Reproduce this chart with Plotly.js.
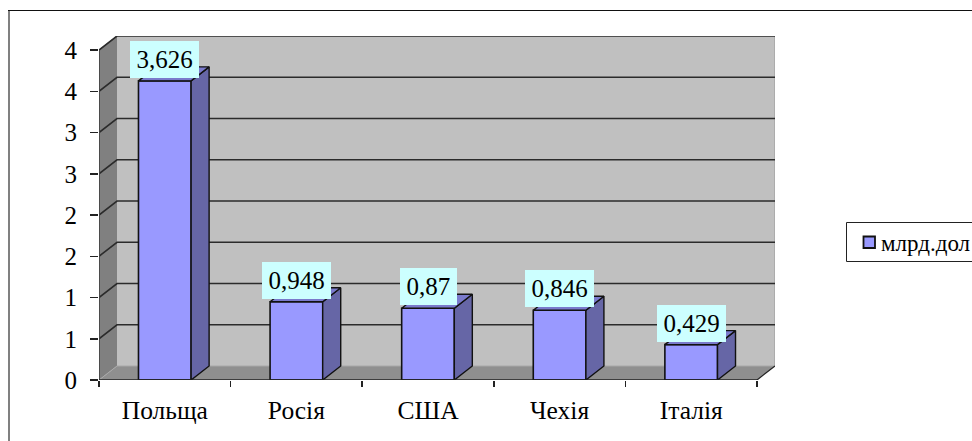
<!DOCTYPE html>
<html><head><meta charset="utf-8">
<script src="https://cdn.plot.ly/plotly-3.0.1.min.js"></script>
<style>html,body{margin:0;padding:0;background:#fff;overflow:hidden}</style>
</head><body><div id="chart" style="width:972px;height:441px"></div>
<script>
const categories = ["Польща","Росія","США","Чехія","Італія"];
const values = [3.626,0.948,0.87,0.846,0.429];
const valueLabels = ["3,626","0,948","0,87","0,846","0,429"];
const yTickVals = [0,0.5,1,1.5,2,2.5,3,3.5,4];
const yTickText = ["0","1","1","2","2","3","3","4","4"];
const seriesName = "млрд.дол";

const W=972,H=441, L=99,R=775,T=36,B=380;
const catPx=(757-99)/5, unitPx=82.5;
const depthX=18/catPx, depthY=14/unitPx, barW=0.4;
const x0=-0.5, x1=4.5, yMax=4;
const font="'Liberation Serif','Times New Roman',serif";
const cx=categories.map((c,i)=>i);
const px=p=>(p-L)/(W-L), py=p=>(B-p)/(B-T);
const line=(x,y,color,width)=>({type:'path',layer:'below',xref:'x',yref:'y',
  path:x.map((v,i)=>(i?'L':'M')+v+','+y[i]).join(' '),line:{color,width}});
const poly=(x,y,fill)=>({type:'path',layer:'below',xref:'x',yref:'y',
  path:x.map((v,i)=>(i?'L':'M')+v+','+y[i]).join(' ')+' Z',fillcolor:fill,line:{width:0}});
const box=(a,b,c,d,fill,color,width,layer)=>({type:'rect',xref:'paper',yref:'paper',layer,
  x0:px(a),x1:px(b),y0:py(d),y1:py(c),line:{color,width},fillcolor:fill});
const seg=(a,b,c,d,color,width)=>({type:'line',xref:'paper',yref:'paper',layer:'below',
  x0:px(a),x1:px(b),y0:py(c),y1:py(d),line:{color,width}});

const shapes=[
  seg(9,9,10,H+2,'#808080',2),
  seg(8,W+2,10.5,10.5,'#111',1),
  poly([x0,x0+depthX,x0+depthX,x0],[0,depthY,yMax+depthY,yMax],'#808080'),
  poly([x0+depthX,x1+depthX,x1+depthX,x0+depthX],[depthY,depthY,yMax+depthY,yMax+depthY],'#c0c0c0'),
  poly([x0,x1,x1+depthX,x0+depthX],[0,0,depthY,depthY],'#8f8f8f'),
  line([x1+depthX,x1+depthX],[depthY,yMax+depthY],'#a6a6a6',1.5),
  line([x0,x0+depthX],[yMax,yMax+depthY],'#a0a0a0',1),
  line([x0,x0+depthX],[0,depthY],'#a8a8a8',1),
  line([x0+depthX,x1+depthX],[depthY,depthY],'#a8a8a8',1),
  line([x1,x1+depthX],[0,depthY],'#222',1.2),
  box(846.5,W+5,222.5,261.5,'#fff','#222',1,'below'),
  box(863.5,875,236.5,248,'#9999ff','#111',1.8,'below')
];
yTickVals.slice(1).forEach(v=>{
  shapes.push(line([x0,x0+depthX,x1+depthX],[v,v+depthY,v+depthY],'#2b2b2b',1.6));
});
shapes.push(line([x0,x0],[0,yMax],'#444',1.8));
shapes.push(Object.assign(line([x0,x1],[0,0],'#222',1.6),{layer:'above'}));

const traces=[{type:'bar',x:cx,y:values,width:barW,name:seriesName,showlegend:false,
  marker:{color:'#9999ff',line:{color:'#111',width:1.6}},hoverinfo:'x+y'}];
cx.forEach((c,i)=>{
  const v=values[i], a=c-barW/2, b=c+barW/2;
  traces.push({type:'scatter',mode:'lines',showlegend:false,hoverinfo:'skip',fill:'toself',
    fillcolor:'#6666a6',line:{color:'#111',width:1.4},
    x:[b,b+depthX,b+depthX,b,b],y:[0,depthY,v+depthY,v,0]});
  traces.push({type:'scatter',mode:'lines',showlegend:false,hoverinfo:'skip',fill:'toself',
    fillcolor:'#7a7acc',line:{color:'#111',width:1.4},
    x:[a,b,b+depthX,a+depthX,a],y:[v,v,v+depthY,v+depthY,v]});
});
const labelSize=25;
const annotations=cx.map((c,i)=>({x:c,y:values[i],xref:'x',yref:'y',text:valueLabels[i],showarrow:false,
  xanchor:'center',yanchor:'bottom',yshift:3,bgcolor:'#ccffff',borderpad:6,borderwidth:0,
  width:((valueLabels[i].length-1)*0.5+0.25)*labelSize+1,height:25,
  font:{family:font,size:labelSize,color:'#000'}}));
annotations.push({xref:'paper',yref:'paper',x:px(880),y:py(243),xanchor:'left',yanchor:'middle',showarrow:false,
  text:seriesName,borderpad:0,font:{family:font,size:23,color:'#000'}});

Plotly.newPlot('chart',traces,{
  width:W,height:H,margin:{l:L,r:0,t:T,b:H-B,pad:0,autoexpand:false},
  paper_bgcolor:'#fff',plot_bgcolor:'rgba(0,0,0,0)',
  font:{family:font,color:'#000'},
  bargap:0.6,showlegend:false,
  xaxis:{type:'linear',domain:[0,(R-L)/(W-L)],range:[x0,x0+(R-L)/catPx],tickvals:cx,ticktext:categories,ticks:'',
    showgrid:false,zeroline:false,showline:false,ticklabelstandoff:12,tickfont:{family:font,size:25.5},
    minor:{tickvals:[-0.5,0.5,1.5,2.5,3.5,4.5],ticks:'outside',ticklen:6,tickwidth:1.5,tickcolor:'#222',showgrid:false}},
  yaxis:{range:[0,(B-T)/unitPx],tickvals:yTickVals,ticktext:yTickText,ticks:'outside',ticklen:8,tickwidth:1.5,tickcolor:'#222',
    showgrid:false,zeroline:false,showline:false,ticklabelstandoff:8,tickfont:{family:font,size:25}},
  shapes,annotations
},{displayModeBar:false,staticPlot:true});
</script></body></html>
